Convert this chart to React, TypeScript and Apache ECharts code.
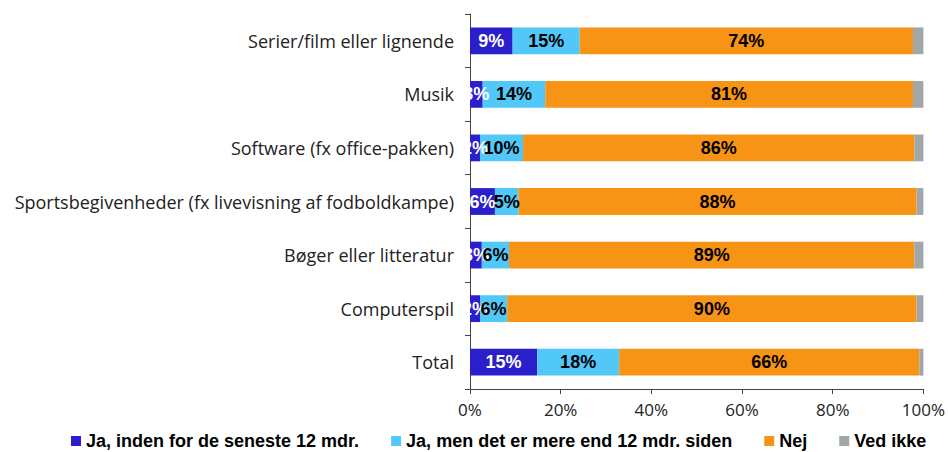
import React, { useEffect, useRef } from "react";
import * as echarts from "echarts";

const categories = [
  "Serier/film eller lignende",
  "Musik",
  "Software (fx office-pakken)",
  "Sportsbegivenheder (fx livevisning af fodboldkampe)",
  "Bøger eller litteratur",
  "Computerspil",
  "Total",
];
const seriesNames = [
  "Ja, inden for de seneste 12 mdr.",
  "Ja, men det er mere end 12 mdr. siden",
  "Nej",
  "Ved ikke",
];
const jaSeneste = [9.4, 2.8, 2.2, 5.5, 2.6, 2.2, 14.8];
const jaTidligere = [14.8, 13.8, 9.5, 5.2, 6.0, 6.0, 18.1];
const nej = [73.5, 81.1, 86.3, 87.8, 89.4, 90.3, 66.2];
const vedIkke = [2.3, 2.3, 2.0, 1.5, 2.0, 1.5, 0.9];
const xTicks = [0, 20, 40, 60, 80, 100];

const colors = ["#2B1ECB", "#52C8F9", "#F79415", "#A1A6A9"];
const FONT = "Liberation Sans";
const LABEL_FONT = "Open Sans";

export default function App() {
  const ref = useRef<HTMLDivElement>(null);
  useEffect(() => {
    if (!ref.current) return;
    const chart = echarts.init(ref.current, undefined, { renderer: "svg" });
    const values = [jaSeneste, jaTidligere, nej, vedIkke];
    chart.setOption({
      animation: false,
      textStyle: { fontFamily: FONT },
      grid: { left: 470, right: 24, top: 14, bottom: 63, containLabel: false },
      legend: {
        left: 71,
        top: 432,
        padding: 0,
        itemWidth: 10,
        itemHeight: 10,
        itemGap: 32,
        icon: "rect",
        textStyle: {
          fontFamily: FONT,
          fontSize: 18,
          lineHeight: 18,
          fontWeight: "bold",
          color: "#000",
        },
        data: seriesNames,
      },
      xAxis: {
        type: "value",
        min: xTicks[0],
        max: xTicks[xTicks.length - 1],
        interval: 20,
        splitLine: { show: false },
        axisLine: { show: true, lineStyle: { color: "#444", width: 1 } },
        axisTick: { show: true, length: 5, lineStyle: { color: "#444" } },
        axisLabel: {
          formatter: (v: number) => v + "%",
          fontSize: 17,
          color: "#222",
          margin: 12,
          fontFamily: LABEL_FONT,
        },
      },
      yAxis: {
        type: "category",
        data: categories,
        inverse: true,
        axisLine: { show: true, lineStyle: { color: "#444", width: 1 } },
        axisTick: { show: true, length: 5, lineStyle: { color: "#444" } },
        axisLabel: { fontSize: 18, color: "#222", margin: 16, fontFamily: LABEL_FONT },
      },
      series: seriesNames.map((name, i) => ({
        name,
        type: "bar",
        stack: "total",
        barWidth: "50%",
        data: values[i],
        itemStyle: { color: colors[i] },
        label: {
          show: i < 3,
          position: "inside",
          formatter: (p: any) => Math.round(p.value) + "%",
          fontFamily: FONT,
          fontSize: 18,
          fontWeight: "bold",
          color: i === 0 ? "#fff" : "#000",
        },
      })),
    });
    return () => chart.dispose();
  }, []);
  return <div ref={ref} style={{ width: 948, height: 452, position: "absolute", left: 0, top: 0 }} />;
}
